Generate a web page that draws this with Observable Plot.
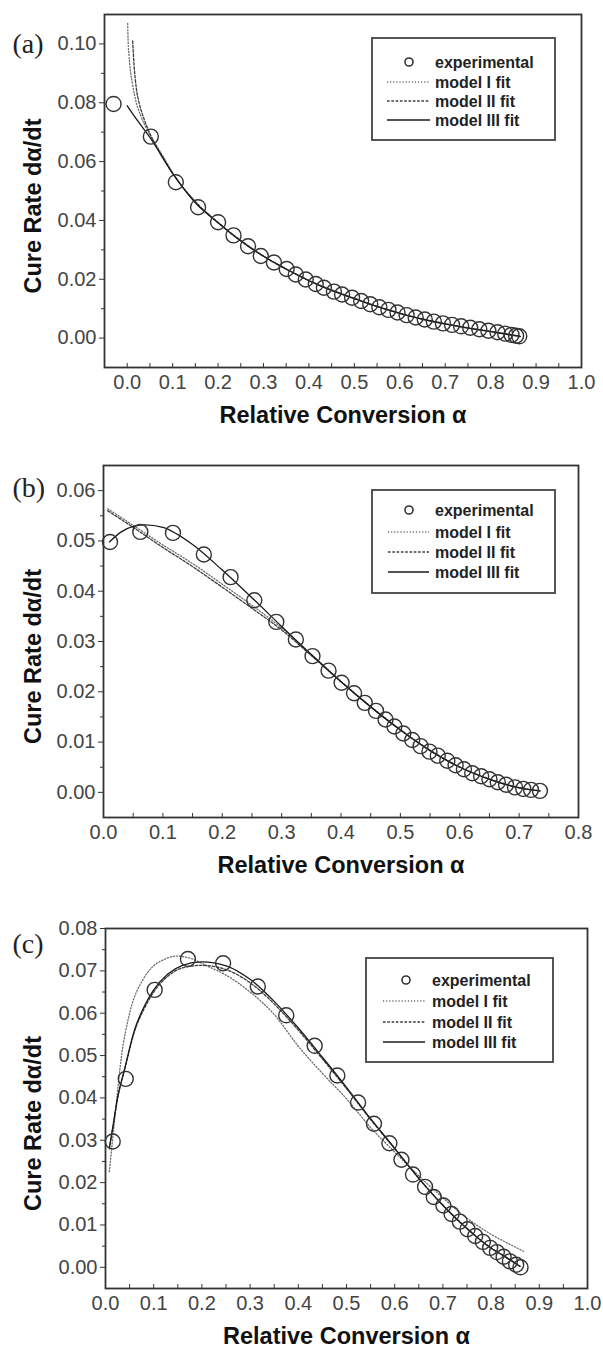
<!DOCTYPE html>
<html>
<head>
<meta charset="utf-8">
<script src="https://cdn.jsdelivr.net/npm/d3@7"></script>
<script src="https://cdn.jsdelivr.net/npm/@observablehq/plot@0.6"></script>
<style>
  html, body { margin: 0; padding: 0; background: #fff; }
  #wrap { position: relative; width: 603px; height: 1348px; overflow: hidden; }
  #wrap > div.p svg { display: block; }
  #legend { position: absolute; left: 0; top: 0; pointer-events: none; }
</style>
</head>
<body>
<div id="wrap"></div>
<script>
// ---------- Panel (a) ----------
const aExpAlpha = [-0.030, 0.052, 0.107, 0.156, 0.200, 0.234, 0.266, 0.294, 0.323, 0.351, 0.371, 0.393, 0.415, 0.433, 0.455, 0.473, 0.495, 0.515, 0.535, 0.555, 0.575, 0.595, 0.615, 0.635, 0.655, 0.675, 0.695, 0.715, 0.735, 0.755, 0.775, 0.795, 0.815, 0.832, 0.846, 0.856, 0.863];
const aExpRate  = [0.0796, 0.0685, 0.0530, 0.0445, 0.0394, 0.0349, 0.0312, 0.0279, 0.0257, 0.0235, 0.0216, 0.0199, 0.0184, 0.0171, 0.0158, 0.0148, 0.0137, 0.0126, 0.0115, 0.0105, 0.0096, 0.0087, 0.0078, 0.0070, 0.0063, 0.0056, 0.0050, 0.0045, 0.0040, 0.0035, 0.0030, 0.0025, 0.0020, 0.0015, 0.0011, 0.0008, 0.0006];
const aM1Alpha = [0.001, 0.002, 0.004, 0.007, 0.012, 0.020, 0.030, 0.045, 0.060, 0.080, 0.100, 0.150, 0.200, 0.300, 0.400, 0.500, 0.600, 0.700, 0.800, 0.865];
const aM1Rate  = [0.1070, 0.1010, 0.0960, 0.0910, 0.0860, 0.0800, 0.0755, 0.0705, 0.0665, 0.0615, 0.0562, 0.0462, 0.0392, 0.0278, 0.0196, 0.0135, 0.0085, 0.0049, 0.0023, 0.0006];
const aM2Alpha = [0.012, 0.015, 0.020, 0.027, 0.037, 0.050, 0.065, 0.080, 0.100, 0.150, 0.200, 0.300, 0.400, 0.500, 0.600, 0.700, 0.800, 0.865];
const aM2Rate  = [0.1010, 0.0930, 0.0850, 0.0795, 0.0745, 0.0695, 0.0650, 0.0610, 0.0560, 0.0464, 0.0393, 0.0279, 0.0196, 0.0135, 0.0084, 0.0048, 0.0022, 0.0005];
const aM3Alpha = [0.000, 0.020, 0.050, 0.100, 0.150, 0.200, 0.250, 0.300, 0.350, 0.400, 0.450, 0.500, 0.550, 0.600, 0.650, 0.700, 0.750, 0.800, 0.850, 0.865];
const aM3Rate  = [0.0790, 0.0745, 0.0682, 0.0560, 0.0460, 0.0392, 0.0330, 0.0278, 0.0235, 0.0195, 0.0161, 0.0134, 0.0107, 0.0084, 0.0064, 0.0048, 0.0034, 0.0022, 0.0010, 0.0006];
const aXTicks = [0.0, 0.1, 0.2, 0.3, 0.4, 0.5, 0.6, 0.7, 0.8, 0.9, 1.0];
const aYTicks = [0.00, 0.02, 0.04, 0.06, 0.08, 0.10];

// ---------- Panel (b) ----------
const bExpAlpha = [0.011, 0.062, 0.117, 0.169, 0.214, 0.254, 0.291, 0.324, 0.352, 0.379, 0.401, 0.422, 0.440, 0.459, 0.475, 0.490, 0.505, 0.520, 0.534, 0.549, 0.563, 0.579, 0.593, 0.607, 0.621, 0.636, 0.650, 0.664, 0.678, 0.693, 0.707, 0.720, 0.735];
const bExpRate  = [0.0498, 0.0518, 0.0516, 0.0473, 0.0428, 0.0382, 0.0339, 0.0304, 0.0271, 0.0242, 0.0218, 0.0197, 0.0178, 0.0162, 0.0145, 0.0131, 0.0117, 0.0104, 0.0092, 0.0081, 0.0073, 0.0063, 0.0054, 0.0046, 0.0038, 0.0032, 0.0026, 0.0020, 0.0015, 0.0010, 0.0007, 0.0005, 0.0003];
const bM1Alpha = [0.007, 0.050, 0.100, 0.150, 0.200, 0.250, 0.300, 0.350, 0.400, 0.450, 0.500, 0.550, 0.600, 0.650, 0.700, 0.735];
const bM1Rate  = [0.0564, 0.0531, 0.0492, 0.0455, 0.0414, 0.0372, 0.0327, 0.0274, 0.0221, 0.0171, 0.0125, 0.0084, 0.0051, 0.0027, 0.0010, 0.0003];
const bM2Alpha = [0.007, 0.050, 0.100, 0.150, 0.200, 0.250, 0.300, 0.350, 0.400, 0.450, 0.500, 0.550, 0.600, 0.650, 0.700, 0.735];
const bM2Rate  = [0.0560, 0.0527, 0.0487, 0.0449, 0.0408, 0.0366, 0.0323, 0.0272, 0.0220, 0.0170, 0.0124, 0.0083, 0.0050, 0.0026, 0.0009, 0.0003];
const bM3Alpha = [0.010, 0.030, 0.050, 0.070, 0.100, 0.150, 0.200, 0.250, 0.300, 0.350, 0.400, 0.450, 0.500, 0.550, 0.600, 0.650, 0.700, 0.735];
const bM3Rate  = [0.0498, 0.0518, 0.0529, 0.0532, 0.0527, 0.0493, 0.0442, 0.0387, 0.0330, 0.0274, 0.0220, 0.0170, 0.0124, 0.0083, 0.0050, 0.0026, 0.0009, 0.0003];
const bXTicks = [0.0, 0.1, 0.2, 0.3, 0.4, 0.5, 0.6, 0.7, 0.8];
const bYTicks = [0.00, 0.01, 0.02, 0.03, 0.04, 0.05, 0.06];

// ---------- Panel (c) ----------
const cExpAlpha = [0.015, 0.042, 0.102, 0.171, 0.244, 0.316, 0.375, 0.434, 0.481, 0.524, 0.557, 0.589, 0.614, 0.638, 0.663, 0.681, 0.701, 0.718, 0.735, 0.751, 0.767, 0.783, 0.798, 0.812, 0.826, 0.839, 0.852, 0.861];
const cExpRate  = [0.0297, 0.0445, 0.0655, 0.0728, 0.0718, 0.0663, 0.0595, 0.0523, 0.0453, 0.0389, 0.0339, 0.0293, 0.0254, 0.0219, 0.0190, 0.0166, 0.0146, 0.0126, 0.0108, 0.0090, 0.0074, 0.0060, 0.0046, 0.0036, 0.0025, 0.0014, 0.0006, 0.0000];
const cM1Alpha = [0.008, 0.020, 0.033, 0.050, 0.078, 0.100, 0.120, 0.147, 0.180, 0.210, 0.250, 0.300, 0.350, 0.400, 0.450, 0.500, 0.550, 0.600, 0.650, 0.700, 0.750, 0.800, 0.850, 0.867];
const cM1Rate  = [0.0226, 0.0360, 0.0497, 0.0600, 0.0680, 0.0712, 0.0726, 0.0735, 0.0728, 0.0712, 0.0690, 0.0650, 0.0597, 0.0522, 0.0458, 0.0398, 0.0330, 0.0272, 0.0216, 0.0164, 0.0116, 0.0078, 0.0048, 0.0038];
const cM2Alpha = [0.008, 0.015, 0.025, 0.040, 0.060, 0.080, 0.100, 0.130, 0.160, 0.200, 0.250, 0.300, 0.350, 0.400, 0.450, 0.500, 0.550, 0.600, 0.650, 0.700, 0.750, 0.800, 0.830, 0.860];
const cM2Rate  = [0.0280, 0.0328, 0.0398, 0.0468, 0.0556, 0.0610, 0.0650, 0.0688, 0.0707, 0.0713, 0.0703, 0.0672, 0.0622, 0.0560, 0.0492, 0.0422, 0.0349, 0.0280, 0.0210, 0.0147, 0.0092, 0.0046, 0.0025, 0.0003];
const cM3Alpha = [0.008, 0.015, 0.025, 0.040, 0.060, 0.080, 0.100, 0.130, 0.160, 0.200, 0.250, 0.300, 0.350, 0.400, 0.450, 0.500, 0.550, 0.600, 0.650, 0.700, 0.750, 0.800, 0.830, 0.860];
const cM3Rate  = [0.0282, 0.0330, 0.0400, 0.0470, 0.0560, 0.0615, 0.0655, 0.0693, 0.0713, 0.0721, 0.0712, 0.0680, 0.0628, 0.0565, 0.0496, 0.0425, 0.0351, 0.0281, 0.0210, 0.0146, 0.0091, 0.0045, 0.0024, 0.0002];
const cXTicks = [0.0, 0.1, 0.2, 0.3, 0.4, 0.5, 0.6, 0.7, 0.8, 0.9, 1.0];
const cYTicks = [0.00, 0.01, 0.02, 0.03, 0.04, 0.05, 0.06, 0.07, 0.08];

const legendLabels = ["experimental", "model I fit", "model II fit", "model III fit"];
const panelLabels = ["(a)", "(b)", "(c)"];
const xTitle = "Relative Conversion \u03b1";
const yTitle = "Cure Rate d\u03b1/dt";

// ---------- styles ----------
const S1 = {stroke: "#6f6f6f", strokeWidth: 1.3, strokeDasharray: "1.2,1.9"};
const S2 = {stroke: "#3d3d3d", strokeWidth: 1.3, strokeDasharray: "2.6,1.7"};
const S3 = {stroke: "#1a1a1a", strokeWidth: 1.3, strokeDasharray: null};

const zip = (xs, ys) => xs.map((a, i) => ({a, r: ys[i]}));
const minorBetween = (ticks) => {
  const out = [];
  for (let i = 0; i < ticks.length - 1; i++) out.push(+((ticks[i] + ticks[i + 1]) / 2).toFixed(4));
  return out;
};

const panels = [
  {
    height: 450, mt: 14, mb: 83, ml: 104, mr: 22,
    xDomain: [-0.05, 1.0], yDomain: [-0.01, 0.11],
    xTicks: aXTicks, yTicks: aYTicks, xMinor: minorBetween(aXTicks), yMinor: minorBetween(aYTicks),
    exp: zip(aExpAlpha, aExpRate), m1: zip(aM1Alpha, aM1Rate), m2: zip(aM2Alpha, aM2Rate), m3: zip(aM3Alpha, aM3Rate),
    labelDy: 30, yTitleDy: 15,
    legend: {box: [372, 38, 555, 140], rows: [62, 82, 101, 120], line: [387, 430], cx: 409, tx: 435}
  },
  {
    height: 463, mt: 15, mb: 96, ml: 103, mr: 25,
    xDomain: [0, 0.8], yDomain: [-0.005, 0.065],
    xTicks: bXTicks, yTicks: bYTicks, xMinor: minorBetween(bXTicks), yMinor: minorBetween(bYTicks),
    exp: zip(bExpAlpha, bExpRate), m1: zip(bM1Alpha, bM1Rate), m2: zip(bM2Alpha, bM2Rate), m3: zip(bM3Alpha, bM3Rate),
    labelDy: 23, yTitleDy: 15,
    legend: {box: [372, 490, 555, 593], rows: [510, 532, 552, 572], line: [388, 429], cx: 409, tx: 435}
  },
  {
    height: 435, mt: 15, mb: 60, ml: 105, mr: 16,
    xDomain: [0, 1.0], yDomain: [-0.005, 0.08],
    xTicks: cXTicks, yTicks: cYTicks, xMinor: minorBetween(cXTicks), yMinor: minorBetween(cYTicks),
    exp: zip(cExpAlpha, cExpRate), m1: zip(cM1Alpha, cM1Rate), m2: zip(cM2Alpha, cM2Rate), m3: zip(cM3Alpha, cM3Rate),
    labelDy: 16, yTitleDy: 15,
    legend: {box: [366, 958, 553, 1062], rows: [980, 1001, 1022, 1042], line: [383, 425], cx: 406, tx: 432}
  }
];

const wrap = document.getElementById("wrap");
const tickFont = "Liberation Sans, Arial, Helvetica, sans-serif";

panels.forEach((p, k) => {
  const xAllTicks = [...p.xTicks, ...p.xMinor];
  const chart = Plot.plot({
    width: 603, height: p.height,
    marginTop: p.mt, marginBottom: p.mb, marginLeft: p.ml, marginRight: p.mr,
    x: {domain: p.xDomain},
    y: {domain: p.yDomain},
    style: {fontFamily: tickFont, background: "#fff", color: "#333", overflow: "visible"},
    marks: [
      Plot.line(p.m1, {x: "a", y: "r", curve: "monotone-x", ...S1}),
      Plot.line(p.m2, {x: "a", y: "r", curve: "monotone-x", ...S2}),
      Plot.line(p.m3, {x: "a", y: "r", curve: "monotone-x", ...S3}),
      Plot.dot(p.exp, {x: "a", y: "r", r: 7.5, stroke: "#333", strokeWidth: 1.4, fill: "none"}),
      Plot.frame({stroke: "#333", strokeWidth: 1.8}),
      Plot.axisY({ticks: p.yTicks, tickSize: 5, tickPadding: 3, tickFormat: d => d.toFixed(2), fontSize: 20, fill: "#444", stroke: "#333", label: null}),
      Plot.axisY({ticks: p.yMinor, tickSize: 3, fill: "none", stroke: "#333", label: null}),
      Plot.axisX({ticks: p.xTicks, tickSize: 0, tickPadding: 7, tickFormat: d => d.toFixed(1), fontSize: 20, fill: "#444", label: null}),
      Plot.axisX({ticks: xAllTicks, tickSize: -4, fill: "none", stroke: "#333", label: null}),
      Plot.text([xTitle], {frameAnchor: "bottom", lineAnchor: "middle", textAnchor: "middle", dy: 48, fontSize: 23.5, fontWeight: "bold", fill: "#111", fontFamily: tickFont}),
      Plot.text([yTitle], {frameAnchor: "left", lineAnchor: "middle", textAnchor: "middle", rotate: -90, dx: -(p.ml - 33), dy: p.yTitleDy, fontSize: 23.5, fontWeight: "bold", fill: "#111", fontFamily: tickFont}),
      Plot.text([panelLabels[k]], {frameAnchor: "top-left", lineAnchor: "middle", textAnchor: "start", dx: -(p.ml - 12), dy: p.labelDy, fontSize: 28, fill: "#222", fontFamily: "Liberation Serif, Times New Roman, serif"})
    ]
  });
  const div = document.createElement("div");
  div.className = "p";
  div.appendChild(chart);
  wrap.appendChild(div);
});

// ---------- legends (overlay) ----------
const svg = d3.select(wrap).append("svg")
  .attr("id", "legend").attr("width", 603).attr("height", 1348);
const lineStyles = [S1, S2, S3];
panels.forEach(p => {
  const L = p.legend;
  const g = svg.append("g");
  g.append("rect")
    .attr("x", L.box[0]).attr("y", L.box[1])
    .attr("width", L.box[2] - L.box[0]).attr("height", L.box[3] - L.box[1])
    .attr("fill", "#fff").attr("stroke", "#444").attr("stroke-width", 1.8);
  g.append("circle").attr("cx", L.cx).attr("cy", L.rows[0]).attr("r", 4)
    .attr("fill", "none").attr("stroke", "#333").attr("stroke-width", 1.6);
  lineStyles.forEach((s, i) => {
    g.append("line")
      .attr("x1", L.line[0]).attr("x2", L.line[1])
      .attr("y1", L.rows[i + 1]).attr("y2", L.rows[i + 1])
      .attr("stroke", s.stroke).attr("stroke-width", s.strokeWidth)
      .attr("stroke-dasharray", s.strokeDasharray);
  });
  legendLabels.forEach((t, i) => {
    g.append("text").attr("x", L.tx).attr("y", L.rows[i])
      .attr("dominant-baseline", "central")
      .attr("font-family", tickFont).attr("font-weight", "bold").attr("font-size", 16)
      .attr("fill", "#222").text(t);
  });
});
</script>
</body>
</html>
